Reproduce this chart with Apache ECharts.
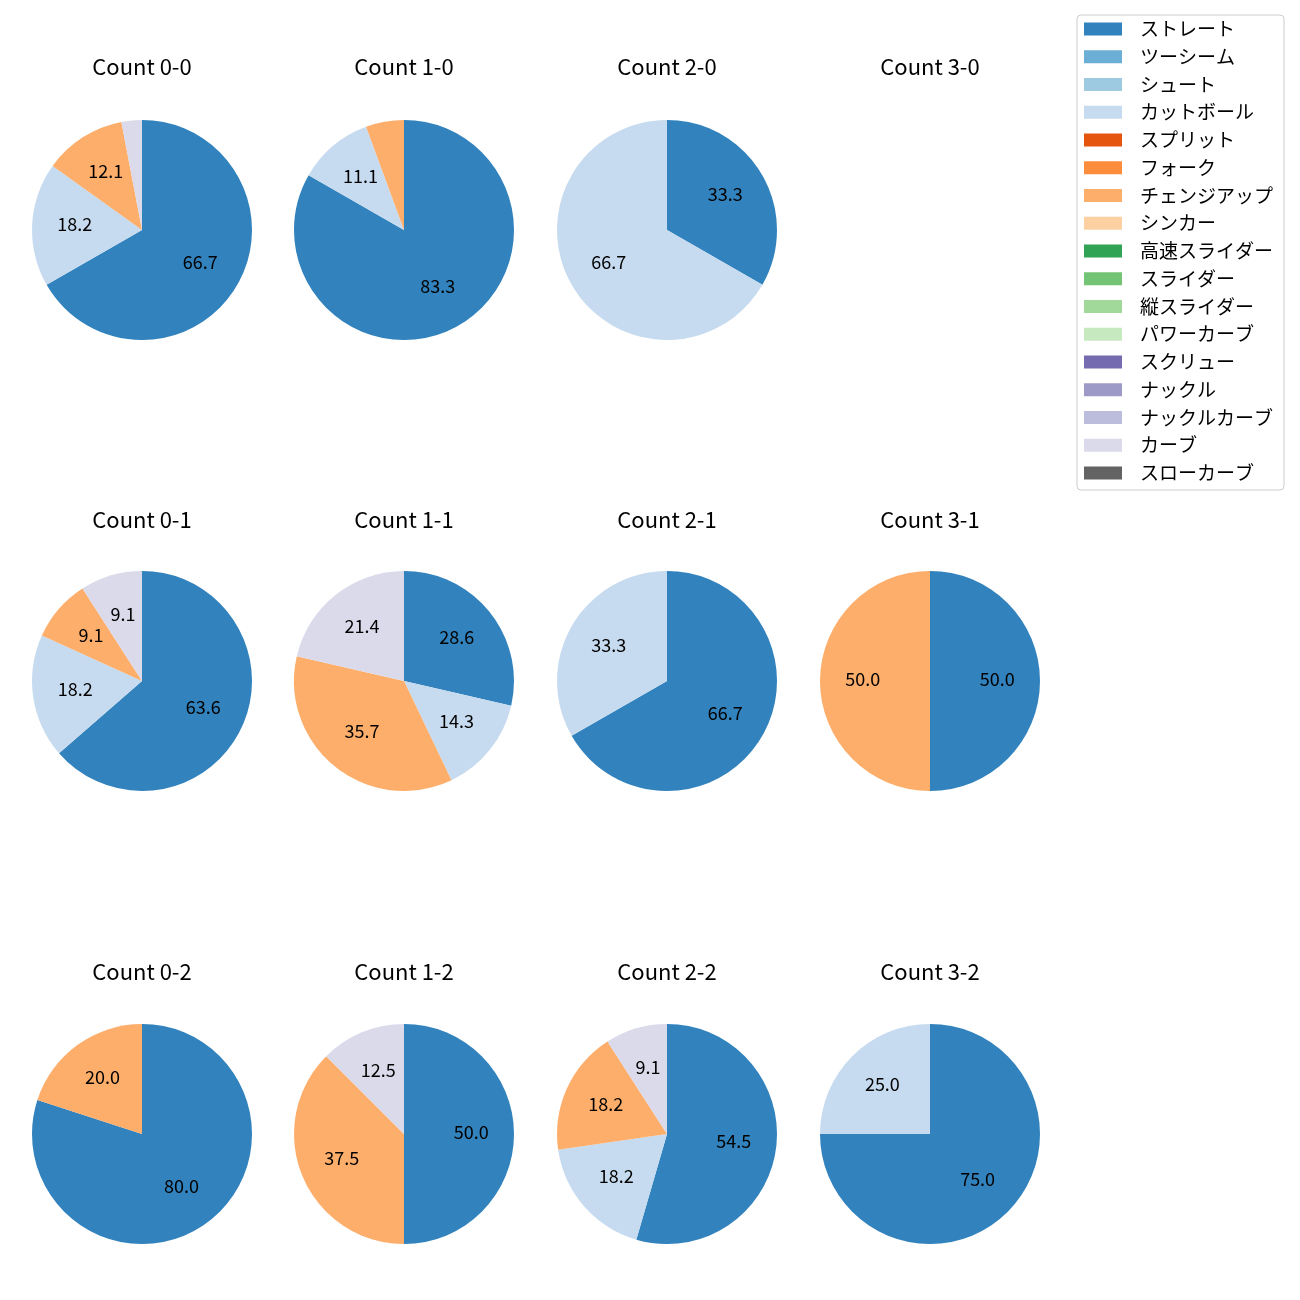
<!DOCTYPE html>
<html>
<head>
<meta charset="utf-8">
<script src="https://cdn.jsdelivr.net/npm/echarts@6/dist/echarts.min.js"></script>
<style>html,body{margin:0;padding:0;background:#fff}#c{width:1300px;height:1300px}</style>
</head>
<body>
<div id="c"></div>
<script>
// Categories (legend order) and colours
const categories = ['ストレート','ツーシーム','シュート','カットボール','スプリット','フォーク','チェンジアップ','シンカー','高速スライダー','スライダー','縦スライダー','パワーカーブ','スクリュー','ナックル','ナックルカーブ','カーブ','スローカーブ'];
const colors = ['#3182bd','#6baed6','#9ecae1','#c6dbef','#e6550d','#fd8d3c','#fdae6b','#fdd0a2','#31a354','#74c476','#a1d99b','#c7e9c0','#756bb1','#9e9ac8','#bcbddc','#dadaeb','#636363'];

// Panels (row-major: balls 0..3 across, strikes 0..2 down)
const panelTitles = ['Count 0-0','Count 1-0','Count 2-0','Count 3-0','Count 0-1','Count 1-1','Count 2-1','Count 3-1','Count 0-2','Count 1-2','Count 2-2','Count 3-2'];
// Percentages per pitch type, per panel (null = no data)
const straight = [66.7, 83.3, 33.3, null, 63.6, 28.6, 66.7, 50.0, 80.0, 50.0, 54.5, 75.0];
const cutter   = [18.2, 11.1, 66.7, null, 18.2, 14.3, 33.3, 0,    0,    0,    18.2, 25.0];
const changeup = [12.1, 5.6,  0,    null, 9.1,  35.7, 0,    50.0, 20.0, 37.5, 18.2, 0];
const curve    = [3.0,  0,    0,    null, 9.1,  21.4, 0,    0,    0,    12.5, 9.1,  0];
const panelSeries = {'ストレート': straight, 'カットボール': cutter, 'チェンジアップ': changeup, 'カーブ': curve};

const FONT = '"Noto Sans CJK JP", "Noto Sans", sans-serif';
const colX = [142, 404, 667, 930];
const rowY = [230, 681, 1134];
const titleY = [68, 521, 973];
const R = 110;
const colorOf = n => colors[categories.indexOf(n)];

const series = [];
// hidden series so the legend lists every category
series.push({
  type: 'pie', radius: 0, center: [-200, -200], silent: true,
  label: {show: false}, labelLine: {show: false},
  data: categories.map((n, i) => ({name: n, value: 1, itemStyle: {color: colors[i]}}))
});
const titles = [];
panelTitles.forEach((t, p) => {
  const cx = colX[p % 4], cy = rowY[Math.floor(p / 4)];
  titles.push({
    text: t, left: cx, top: titleY[Math.floor(p / 4)] - 12, textAlign: 'center', padding: 0,
    textStyle: {fontFamily: FONT, fontSize: 22, fontWeight: 'normal', color: '#000'}
  });
  const data = [];
  Object.keys(panelSeries).forEach(n => {
    const v = panelSeries[n][p];
    if (v) data.push({name: n, value: v});
  });
  if (!data.length) return;
  series.push({
    type: 'pie', center: [cx, cy], radius: R, startAngle: 90, clockwise: true,
    label: {show: false}, labelLine: {show: false}, emphasis: {disabled: true},
    itemStyle: {borderWidth: 0},
    data: data.map(d => ({name: d.name, value: d.value, itemStyle: {color: colorOf(d.name)}}))
  });
  series.push({
    type: 'pie', center: [cx, cy], radius: [R * 0.17, R], startAngle: 90, clockwise: true,
    silent: true, emphasis: {disabled: true}, labelLine: {show: false},
    itemStyle: {color: 'rgba(0,0,0,0)', borderWidth: 0},
    label: {
      show: true, position: 'inside', color: '#000', fontFamily: FONT, fontSize: 18,
      offset: [0, -2],
      formatter: q => q.value >= 8 ? q.value.toFixed(1) : ''
    },
    data: data.map(d => ({name: d.name, value: d.value}))
  });
});

const chart = echarts.init(document.getElementById('c'), null, {renderer: 'canvas'});
chart.setOption({
  animation: false,
  backgroundColor: '#fff',
  title: titles,
  legend: {
    data: categories, orient: 'vertical', left: 1077, top: 15,
    itemWidth: 38, itemHeight: 13, itemGap: 7.75, icon: 'rect',
    padding: [4, 11, 7, 7],
    borderColor: '#cccccc', borderWidth: 1, borderRadius: 4,
    textStyle: {fontFamily: FONT, fontSize: 19, lineHeight: 20, color: '#000', padding: [0, 0, 0, 13]}
  },
  series: series
});
</script>
</body>
</html>
